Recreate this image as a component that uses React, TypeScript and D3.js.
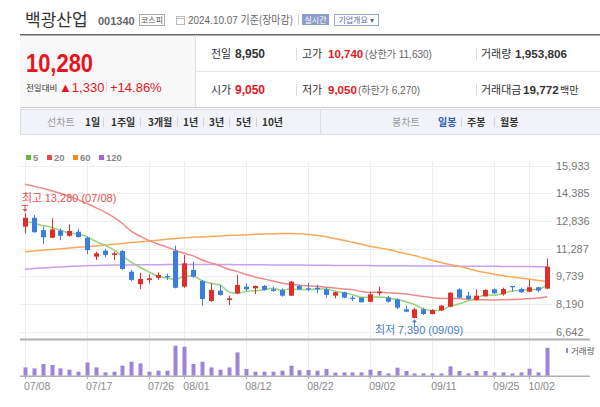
import React from 'react';
import * as d3 from 'd3';

const dates = [
  "07/08","07/09","07/10","07/11","07/12","07/15","07/16","07/17","07/18","07/19","07/22","07/23","07/24","07/25","07/26","07/29","07/30","07/31",
  "08/01","08/02","08/05","08/06","08/07","08/08","08/09","08/12","08/13","08/14","08/16","08/19","08/20","08/21","08/22","08/23","08/26","08/27","08/28","08/29","08/30",
  "09/02","09/03","09/04","09/05","09/06","09/09","09/10","09/11","09/12","09/13","09/19","09/20","09/23","09/24","09/25","09/26","09/27","09/30",
  "10/02","10/04","10/07"
];
const tickDates = ["07/08","07/17","07/26","08/01","08/12","08/22","09/02","09/11","09/25","10/02"];
const priceTicks = [6642, 8190, 9739, 11287, 12836, 14385, 15933];

const opens = [12520,13020,12330,11900,12300,12010,12240,11900,10840,11180,10940,11160,10000,9300,9540,9660,9760,11160,9160,10100,9480,8360,8940,8420,8790,9160,9070,9200,9015,8980,8660,9200,9070,9105,9015,8660,8850,8545,8545,8320,8790,8545,8455,7895,7410,7895,7630,7840,8040,9015,8660,8420,8620,9015,8735,9200,9030,8880,9130,9050];
const highs = [13280,13170,12520,12990,12430,12650,12390,11960,11120,11270,11120,11210,10100,9940,9855,9970,9890,11460,10935,10560,9540,9350,9260,8660,9815,9350,9230,9260,9160,9070,9480,9260,9385,9260,9105,8880,8880,8660,8580,8880,9160,8660,8510,8100,7970,7985,7895,8140,8850,9070,8880,9015,9015,9070,9105,9200,9105,9540,9170,10740];
const lows = [12150,12180,11550,11870,11770,11960,11900,10990,10660,10810,10660,10100,9480,9030,9350,9540,9540,9070,9100,9660,8100,8320,8660,8140,8750,8920,8750,8940,8880,8600,8640,8980,8920,8790,8545,8510,8510,8360,8265,8290,8660,8265,7910,7730,7390,7575,7615,7800,8010,8510,8430,8380,8600,8750,8660,8880,8810,8850,8850,9050];
const closes = [13020,12210,11930,12370,12010,12280,11940,11210,11030,10940,11030,10150,9540,9590,9630,9815,9690,9100,10470,9720,8470,8980,8700,8510,9260,9015,9200,8980,8920,8660,9440,9015,9015,9015,8700,8850,8545,8470,8290,8735,8880,8320,7985,7760,7895,7630,7855,8100,8825,8545,8470,8660,8980,8790,9030,9130,8850,9130,8950,10280];
const volumes = [579000,509000,816000,747000,509000,419000,279000,928000,579000,230000,279000,698000,977000,858000,279000,349000,349000,2093000,2024000,816000,977000,579000,419000,579000,1626000,468000,279000,279000,279000,349000,698000,384000,398000,349000,468000,209000,230000,230000,230000,419000,328000,160000,558000,328000,160000,160000,160000,160000,649000,328000,160000,328000,328000,230000,230000,160000,230000,488000,230000,1953806];

// closes before 07/08 (for the first 5-day averages)
const priorCloses = [12805, 12605, 12820, 12900];
// 20-day average before enough in-range closes exist
const ma20Head = [14890,14780,14668,14534,14388,14232,14036,13817,13588,13347,13051,12698,12273,11987,11741,11551,11383,11198,11030];
const ma60 = [11120,11159,11203,11243,11282,11327,11366,11405,11444,11489,11534,11579,11629,11674,11719,11763,11814,11858,11903,11925,11948,11970,11992,12021,12043,12071,12093,12110,12127,12138,12138,12121,12088,12037,11953,11858,11758,11646,11534,11428,11338,11243,11131,11008,10907,10767,10644,10515,10403,10302,10179,10056,9955,9860,9782,9709,9648,9580,9513,9446];
const ma120 = [10134,10173,10207,10241,10269,10297,10319,10336,10347,10358,10369,10375,10381,10386,10390,10394,10397,10399,10400,10400,10400,10399,10398,10397,10395,10393,10390,10386,10382,10378,10374,10370,10366,10362,10358,10354,10350,10347,10344,10341,10338,10335,10332,10329,10326,10323,10320,10317,10314,10311,10308,10305,10302,10299,10296,10293,10290,10287,10284,10281];

const F = "'Liberation Sans', 'Noto Sans CJK KR', sans-serif";
const K = "'Noto Sans CJK KR', 'Liberation Sans', sans-serif";
const RED = "#e8141e";
const UP = "#de2f2a";
const DOWN = "#3a7fe0";

export default function App() {
  const x = d3.scalePoint<string>().domain(dates).range([25, 547.2]);
  const y = d3.scaleLinear().domain([6642, 15933]).range([331.7, 165.7]);
  const yv = d3.scaleLinear().domain([0, 1953806]).range([375.7, 347.7]);

  const all = [...priorCloses, ...closes];
  const ma5 = closes.map((_, i) => d3.mean(all.slice(i, i + 5)) as number);
  const ma20 = closes.map((_, i) => i < ma20Head.length ? ma20Head[i] : (d3.mean(closes.slice(i - 19, i + 1)) as number));

  const line = d3.line<number>().x((_, i) => x(dates[i]) as number).y(v => y(v)).curve(d3.curveMonotoneX);

  const fmt = d3.format(",");
  const hiIdx = d3.maxIndex(highs);
  const loIdx = d3.minIndex(lows);
  const hx = x(dates[hiIdx]) as number;
  const lx = x(dates[loIdx]) as number;

  return (
    <svg width={600} height={407} style={{ position: 'absolute', left: 0, top: 0, background: '#fff' }} fontFamily={F}>
      {/* header */}
      <text x={25} y={26} fontSize={17} fill="#333" fontFamily={K}>백광산업</text>
      <text x={98} y={25} fontSize={11} fontWeight="bold" fill="#666">001340</text>
      <rect x={139.5} y={14.5} width={25} height={11} fill="#fff" stroke="#aaa" />
      <text x={152} y={23} fontSize={8} fill="#555" textAnchor="middle" fontFamily={K}>코스피</text>
      <rect x={176.5} y={16.5} width={8} height={8} fill="none" stroke="#bbb" />
      <line x1={176.5} y1={18.5} x2={184.5} y2={18.5} stroke="#bbb" />
      <text x={188} y={24} fontSize={11} fill="#666" textLength={105} lengthAdjust="spacingAndGlyphs">2024.10.07 <tspan fontFamily={K}>기준(장마감)</tspan></text>
      <line x1={298.5} y1={15} x2={298.5} y2={25} stroke="#ccc" />
      <rect x={302} y={14} width={27} height={11} fill="#8d9dc9" />
      <text x={315.5} y={22.5} fontSize={8} fill="#fff" textAnchor="middle" fontFamily={K}>실시간</text>
      <rect x={334.5} y={14.5} width={44} height={11} fill="#fff" stroke="#97a5d6" />
      <text x={356} y={22.5} fontSize={8} fill="#5a6aad" textAnchor="middle" fontFamily={K}>기업개요 ▾</text>

      {/* price summary */}
      <rect x={20} y={35} width={175} height={72} fill="#f8f8f8" />
      <line x1={20} y1={34.75} x2={600} y2={34.75} stroke="#666" strokeWidth={1.5} />
      <line x1={195.5} y1={35} x2={195.5} y2={107} stroke="#ddd" />
      <line x1={195} y1={71.5} x2={600} y2={71.5} stroke="#e8e8e8" />
      <line x1={20} y1={107.5} x2={600} y2={107.5} stroke="#ccc" />
      <text x={26} y={72} fontSize={25} fontWeight="bold" fill={RED} textLength={67} lengthAdjust="spacingAndGlyphs">10,280</text>
      <text x={26} y={91} fontSize={8.5} fill="#333" fontFamily={K}>전일대비</text>
      <text x={59} y={92} fontSize={13} fill={RED}>▲1,330</text>
      <line x1={106.5} y1={82} x2={106.5} y2={92} stroke="#ddd" />
      <text x={110} y={92} fontSize={13} fill={RED}>+14.86%</text>

      <text x={211} y={58} fontSize={11} fill="#333" fontFamily={K}>전일</text>
      <text x={235} y={58} fontSize={12} fontWeight="bold" fill="#333">8,950</text>
      <line x1={296.5} y1={48} x2={296.5} y2={60} stroke="#ddd" />
      <text x={302} y={58} fontSize={11} fill="#333" fontFamily={K}>고가</text>
      <text x={328} y={58} fontSize={11.5} fontWeight="bold" fill={RED}>10,740</text>
      <text x={365} y={58} fontSize={10} fill="#666">(<tspan fontFamily={K}>상한가</tspan> 11,630)</text>
      <line x1={476.5} y1={48} x2={476.5} y2={60} stroke="#ddd" />
      <text x={481} y={58} fontSize={11} fill="#333" fontFamily={K}>거래량</text>
      <text x={515} y={58} fontSize={11.7} fontWeight="bold" fill="#333">1,953,806</text>

      <text x={211} y={94} fontSize={11} fill="#333" fontFamily={K}>시가</text>
      <text x={235} y={94} fontSize={12} fontWeight="bold" fill={RED}>9,050</text>
      <line x1={296.5} y1={84} x2={296.5} y2={96} stroke="#ddd" />
      <text x={302} y={94} fontSize={11} fill="#333" fontFamily={K}>저가</text>
      <text x={328} y={94} fontSize={11.5} fontWeight="bold" fill={RED}>9,050</text>
      <text x={358} y={94} fontSize={10} fill="#666">(<tspan fontFamily={K}>하한가</tspan> 6,270)</text>
      <line x1={476.5} y1={84} x2={476.5} y2={96} stroke="#ddd" />
      <text x={481} y={94} fontSize={11} fill="#333" fontFamily={K}>거래대금</text>
      <text x={523} y={94} fontSize={11.7} fontWeight="bold" fill="#333">19,772</text>
      <text x={560} y={94} fontSize={10} fill="#333" fontFamily={K}>백만</text>

      {/* toolbar */}
      <rect x={20.5} y={109.5} width={580} height={25} fill="#f1f3f8" stroke="#dcdfe6" />
      <line x1={320.5} y1={110} x2={320.5} y2={134} stroke="#dcdfe6" />
      <g fontFamily={K} fontSize={10} fontWeight="bold" fill="#333">
        <text x={47} y={126} fill="#999" fontWeight="normal">선차트</text>
        <text x={85} y={126}>1일</text>
        <text x={111} y={126}>1주일</text>
        <text x={148} y={126}>3개월</text>
        <text x={183} y={126}>1년</text>
        <text x={209} y={126}>3년</text>
        <text x={236} y={126}>5년</text>
        <text x={262} y={126}>10년</text>
        <text x={392} y={126} fill="#999" fontWeight="normal">봉차트</text>
        <text x={438} y={126} fill="#2f57b5">일봉</text>
        <text x={467} y={126}>주봉</text>
        <text x={500} y={126}>월봉</text>
      </g>
      <g stroke="#d4d4d4">
        {[103, 140, 177, 203, 229, 256, 461, 494].map(v => <line key={v} x1={v + 0.5} y1={117} x2={v + 0.5} y2={127} />)}
      </g>

      {/* legend */}
      {[["5", "#63b83a", 26], ["20", "#e84a4a", 47], ["60", "#f08c22", 73], ["120", "#a464d8", 99]].map(([t, c, lx0]) => (
        <g key={t as string}>
          <rect x={lx0 as number} y={155} width={5} height={5} fill={c as string} />
          <text x={(lx0 as number) + 7} y={160.5} fontSize={9.5} fontWeight="bold" fill="#888">{t}</text>
        </g>
      ))}

      {/* grid */}
      <g stroke="#eeeeee">
        {priceTicks.map(t => <line key={t} x1={20} x2={552} y1={Math.round(y(t)) + 0.5} y2={Math.round(y(t)) + 0.5} />)}
        {tickDates.map(d => <line key={d} x1={Math.round(x(d) as number) + 0.5} x2={Math.round(x(d) as number) + 0.5} y1={162} y2={339} />)}
        {tickDates.map(d => <line key={'v' + d} x1={Math.round(x(d) as number) + 0.5} x2={Math.round(x(d) as number) + 0.5} y1={341} y2={376} />)}
      </g>
      <g fontSize={11} fill="#777">
        {priceTicks.map(t => <text key={t} x={556} y={y(t) + 4}>{fmt(t)}</text>)}
      </g>

      {/* moving averages */}
      <path d={line(ma120) as string} fill="none" stroke="#c9a0f0" strokeWidth={1.5} />
      <path d={line(ma60) as string} fill="none" stroke="#f7aa5a" strokeWidth={1.5} />
      <path d={line(ma20) as string} fill="none" stroke="#f08a8a" strokeWidth={1.5} />
      <path d={line(ma5) as string} fill="none" stroke="#98d27a" strokeWidth={1.5} />

      {/* candles */}
      {dates.map((d, i) => {
        const cx = Math.round(x(d) as number) + 0.5;
        const up = closes[i] >= opens[i];
        const col = up ? UP : DOWN;
        const top = y(Math.max(opens[i], closes[i]));
        const bot = y(Math.min(opens[i], closes[i]));
        return (
          <g key={d}>
            <line x1={cx} x2={cx} y1={y(highs[i])} y2={y(lows[i])} stroke={col} strokeWidth={1} />
            <rect x={cx - 2.5} y={top} width={5} height={Math.max(1.2, bot - top)} fill={col} />
          </g>
        );
      })}

      {/* annotations */}
      <text x={22} y={202} fontSize={11} fill="#e65050" fontFamily={K}>최고 <tspan fontFamily={F}>{fmt(highs[hiIdx])} ({dates[hiIdx]})</tspan></text>
      <line x1={hx - 3} x2={hx + 3} y1={205.5} y2={205.5} stroke="#e65050" />
      <line x1={hx} x2={hx} y1={205.5} y2={y(highs[hiIdx]) - 3} stroke="#e65050" />
      <path d={`M${hx - 2.5},${y(highs[hiIdx]) - 4} L${hx + 2.5},${y(highs[hiIdx]) - 4} L${hx},${y(highs[hiIdx]) - 1} Z`} fill="#e65050" />

      <text x={375} y={334} fontSize={11} fill="#4a7bd0" fontFamily={K}>최저 <tspan fontFamily={F}>{fmt(lows[loIdx])} ({dates[loIdx]})</tspan></text>
      <line x1={lx} x2={lx} y1={y(lows[loIdx]) + 3} y2={327} stroke="#4a7bd0" />
      <path d={`M${lx - 2.5},${y(lows[loIdx]) + 4} L${lx + 2.5},${y(lows[loIdx]) + 4} L${lx},${y(lows[loIdx]) + 1} Z`} fill="#4a7bd0" />

      {/* axis lines */}
      <line x1={20} x2={590} y1={339.5} y2={339.5} stroke="#b0b0b0" strokeWidth={2} />

      {/* volume */}
      {dates.map((d, i) => (
        <rect key={'vol' + d} x={Math.round(x(d) as number) - 1.5} y={yv(volumes[i])} width={4} height={375.7 - yv(volumes[i])} fill="#9d83d9" />
      ))}
      <line x1={20} x2={590} y1={376.25} y2={376.25} stroke="#b0b0b0" strokeWidth={1.5} />
      <g stroke="#b0b0b0">
        {tickDates.map(d => <line key={'t' + d} x1={Math.round(x(d) as number) + 0.5} x2={Math.round(x(d) as number) + 0.5} y1={377} y2={379} />)}
      </g>
      <g fontSize={10.5} fill="#888">
        {tickDates.map(d => <text key={'l' + d} x={(x(d) as number) - 1} y={390}>{d}</text>)}
      </g>
      <rect x={566} y={348} width={2} height={5} fill="#9d83d9" />
      <text x={571} y={354} fontSize={8.5} fill="#555" fontFamily={K}>거래량</text>
    </svg>
  );
}
